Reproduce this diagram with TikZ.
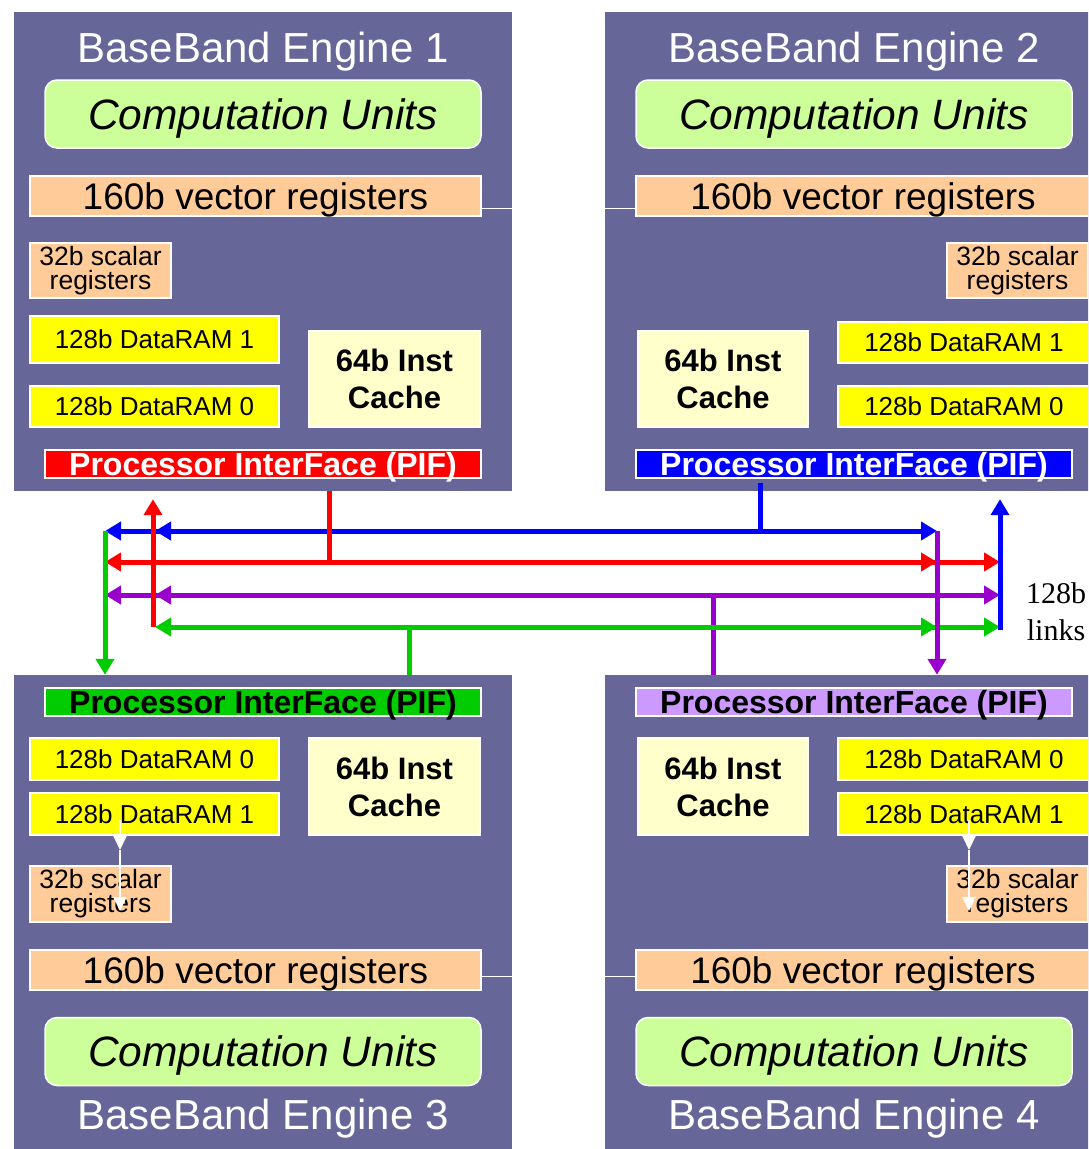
\documentclass[tikz,border=0pt]{standalone}
\usepackage{fontspec}
\setmainfont{Liberation Sans}
\newfontfamily\linkfont{Liberation Serif}
\usetikzlibrary{arrows.meta}
\definecolor{engfill}{HTML}{666699}
\definecolor{unitgreen}{HTML}{CCFF99}
\definecolor{regpeach}{HTML}{FFCC99}
\definecolor{ramyellow}{HTML}{FFFF00}
\definecolor{cachecream}{HTML}{FFFFCC}
\definecolor{linkgreen}{HTML}{00CC00}
\definecolor{linkpurple}{HTML}{9900CC}
\definecolor{piflilac}{HTML}{CC99FF}
\tikzset{
  engine/.style={fill=engfill, minimum width=498, minimum height=479, inner sep=0},
  engname/.style={text=white, font=\fontsize{42}{48}\selectfont, text height=30pt, text depth=0pt, inner sep=0},
  units/.style={fill=unitgreen, draw=white, line width=1.5pt, rounded corners=12pt, minimum width=436, minimum height=68, inner sep=0, font=\itshape\fontsize{42.5}{48}\selectfont, text height=30pt, text depth=0pt},
  vecreg/.style={fill=regpeach, draw=white, line width=1.5pt, minimum width=451, minimum height=40, inner sep=0, font=\fontsize{37}{44}\selectfont, text height=26.5pt, text depth=0pt},
  scalreg/.style={fill=regpeach, draw=white, line width=1.5pt, minimum width=141, minimum height=55, inner sep=0, align=center, font=\fontsize{26.5}{24}\selectfont},
  dataram/.style={fill=ramyellow, draw=white, line width=1.5pt, minimum width=249, minimum height=41, inner sep=0, font=\fontsize{26}{30}\selectfont, text height=18.6pt, text depth=0pt},
  icache/.style={fill=cachecream, draw=white, line width=1.5pt, minimum width=171, minimum height=96, inner sep=0, align=center, font=\bfseries\fontsize{31}{37}\selectfont},
  pif/.style={draw=white, line width=1.5pt, minimum width=436, minimum height=28, inner sep=0, font=\bfseries\fontsize{32}{38}\selectfont, text height=22.9pt, text depth=0pt},
  bus/.style={line width=5pt, -{Triangle[length=16pt,width=18pt]}},
  feed/.style={line width=5pt},
  wire/.style={white, line width=1pt},
  warrow/.style={white, line width=2pt, -{Triangle[length=14pt,width=13pt]}}
}
\begin{document}
\begin{tikzpicture}[x=1pt,y=-1pt]
  \useasboundingbox (0,0) rectangle (1088,1149);
  \clip (0,0) rectangle (1088,1149);

  \node[engine] (E1) at (263,251.5) {};
  \node[engname] (T1) at (263,47) {BaseBand Engine 1};
  \node[units] (U1) at (263,114) {Computation Units};
  \node[vecreg] (V1) at (255.5,196) {160b vector registers};
  \node[scalreg] (S1) at (100.5,270.5) {32b scalar\\registers};
  \node[dataram, minimum height=47] (D11) at (154.5,339.5) {128b DataRAM 1};
  \node[dataram] (D10) at (154.5,406.5) {128b DataRAM 0};
  \node[icache] (C1) at (394.5,379) {64b Inst\\Cache};
  \node[pif, fill=red, text=white] (P1) at (263,464) {Processor InterFace (PIF)};

  \node[engine] (E2) at (854,251.5) {};
  \node[engname] (T2) at (854,47) {BaseBand Engine 2};
  \node[units] (U2) at (854,114) {Computation Units};
  \node[vecreg, minimum width=454] (V2) at (863,196) {160b vector registers};
  \node[scalreg] (S2) at (1017.5,270.5) {32b scalar\\registers};
  \node[dataram, minimum width=252] (D21) at (964,342.5) {128b DataRAM 1};
  \node[dataram, minimum width=252] (D20) at (964,406.5) {128b DataRAM 0};
  \node[icache, minimum width=170] (C2) at (723,379) {64b Inst\\Cache};
  \node[pif, fill=blue, text=white] (P2) at (854,464) {Processor InterFace (PIF)};

  \node[engine] (E3) at (263,914.5) {};
  \node[pif, fill=linkgreen] (P3) at (263,702) {Processor InterFace (PIF)};
  \node[dataram, minimum height=42] (D30) at (154.5,759) {128b DataRAM 0};
  \node[dataram, minimum height=42] (D31) at (154.5,814) {128b DataRAM 1};
  \node[icache, minimum height=97] (C3) at (394.5,786.5) {64b Inst\\Cache};
  \node[scalreg, minimum height=56] (S3) at (100.5,894) {32b scalar\\registers};
  \node[vecreg] (V3) at (255.5,970) {160b vector registers};
  \node[units] (U3) at (263,1051.5) {Computation Units};
  \node[engname] (T3) at (263,1114) {BaseBand Engine 3};

  \node[engine] (E4) at (854,914.5) {};
  \node[pif, fill=piflilac] (P4) at (854,702) {Processor InterFace (PIF)};
  \node[icache, minimum width=170, minimum height=97] (C4) at (723,786.5) {64b Inst\\Cache};
  \node[dataram, minimum width=252, minimum height=42] (D40) at (964,759) {128b DataRAM 0};
  \node[dataram, minimum width=252, minimum height=42] (D41) at (964,814) {128b DataRAM 1};
  \node[scalreg, minimum height=56] (S4) at (1017.5,894) {32b scalar\\registers};
  \node[vecreg, minimum width=454] (V4) at (863,970) {160b vector registers};
  \node[units] (U4) at (854,1051.5) {Computation Units};
  \node[engname] (T4) at (854,1114) {BaseBand Engine 4};

  \draw[wire] (V1.east |- 0,208) -- (V2.west |- 0,208);
  \draw[wire] (V3.east |- 0,976) -- (V4.west |- 0,976);

  \coordinate (w3a) at (120,820);
  \coordinate (w3b) at (120,850);
  \coordinate (w3c) at (120,911);
  \coordinate (w4a) at (969,820);
  \coordinate (w4b) at (969,850);
  \coordinate (w4c) at (969,911);
  \draw[warrow] (w3a) -- (w3b);
  \draw[warrow] (w3b) -- (w3c);
  \draw[warrow] (w4a) -- (w4b);
  \draw[warrow] (w4b) -- (w4c);

  \coordinate (bj) at (760,531);
  \coordinate (rj) at (329,562);
  \coordinate (pj) at (713,595);
  \coordinate (gj) at (409,627);
  \coordinate (in3) at (105,531);
  \coordinate (in1) at (153,627);
  \coordinate (in4) at (937,531);
  \coordinate (in2) at (1000,630);

  \draw[feed, blue] ([yshift=8pt]E2.south -| bj) -- (bj);
  \draw[bus, blue] (bj) -- (bj -| in3);
  \draw[bus, blue] (bj) -- ([xshift=2pt]bj -| in1);
  \draw[bus, blue] (bj) -- (bj -| in4);

  \draw[feed, red] (E1.south -| rj) -- (rj);
  \draw[bus, red] (rj) -- (rj -| in3);
  \draw[bus, red] (rj) -- (rj -| in4);
  \draw[bus, red] (rj) -- (rj -| in2);

  \draw[feed, linkpurple] (E4.north -| pj) -- (pj);
  \draw[bus, linkpurple] (pj) -- (pj -| in3);
  \draw[bus, linkpurple] (pj) -- ([xshift=2pt]pj -| in1);
  \draw[bus, linkpurple] (pj) -- (pj -| in2);

  \draw[feed, linkgreen] (E3.north -| gj) -- (gj);
  \draw[bus, linkgreen] (gj) -- ([xshift=2pt]gj -| in1);
  \draw[bus, linkgreen] (gj) -- (gj -| in4);
  \draw[bus, linkgreen] (gj) -- (gj -| in2);

  \draw[bus, linkgreen] (in3) -- (in3 |- E3.north);
  \draw[bus, red, shorten >=8pt] (in1) -- (in1 |- E1.south);
  \draw[bus, linkpurple] (in4) -- (in4 |- E4.north);
  \draw[bus, blue, shorten >=8pt] (in2) -- (in2 |- E2.south);

  \node[font=\linkfont\fontsize{30}{37}\selectfont, align=center, inner sep=0] (L) at (1056,612) {128b\\links};
\end{tikzpicture}
\end{document}
